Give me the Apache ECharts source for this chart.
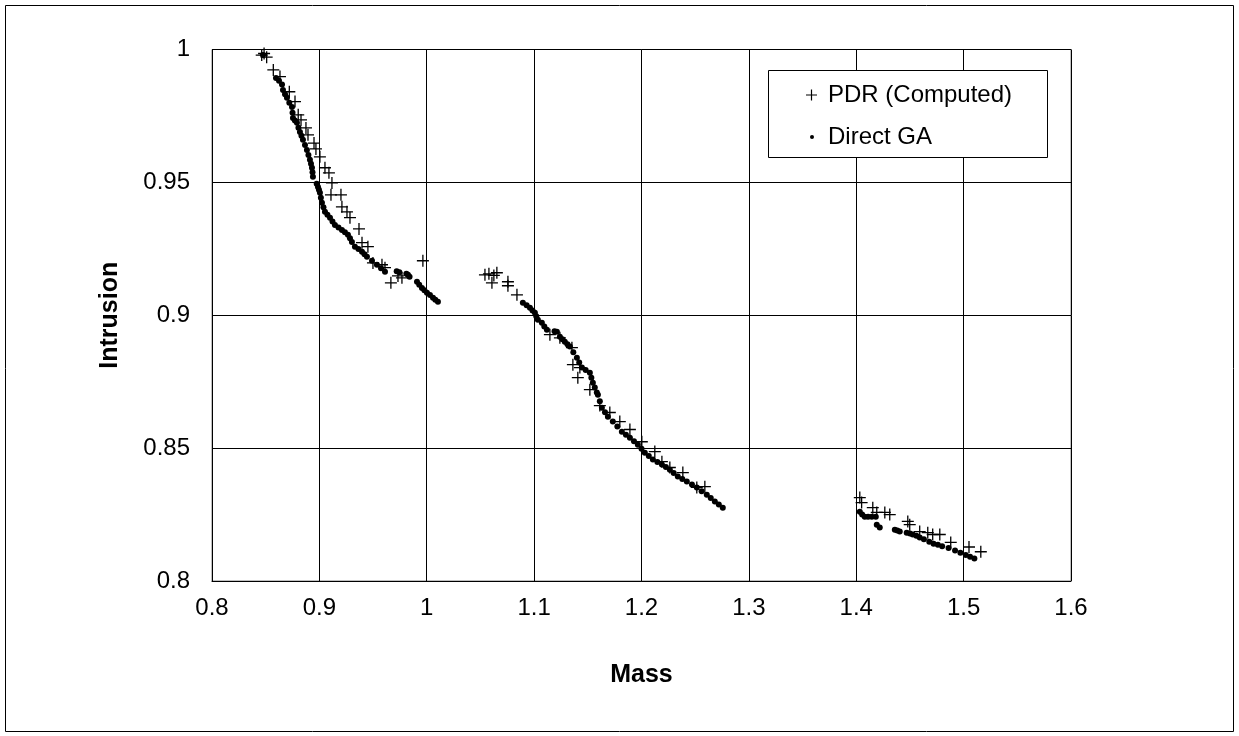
<!DOCTYPE html>
<html><head><meta charset="utf-8">
<script src="https://cdn.jsdelivr.net/npm/echarts@6/dist/echarts.min.js"></script>
<style>html,body{margin:0;padding:0;background:#fff}#c{width:1239px;height:736px}</style>
</head><body><div id="c"></div>
<script>
const xAxisName = 'Mass';
const yAxisName = 'Intrusion';
const seriesNames = ['PDR (Computed)', 'Direct GA'];

// PDR (Computed) points [mass, intrusion]
const pdrCluster1 = [[0.8463,0.9979],[0.8485,0.9985],[0.8509,0.9971],[0.8571,0.9923],[0.8633,0.9898],[0.8720,0.9841],[0.8773,0.9804],[0.8803,0.9754],[0.8829,0.9735],[0.8875,0.9705],[0.8894,0.9679],[0.8950,0.9648],[0.8968,0.9626],[0.9005,0.9596],[0.9052,0.9555],[0.9089,0.9536],[0.9117,0.9498],[0.9108,0.9453],[0.9201,0.9453],[0.9210,0.9408],[0.9257,0.9389],[0.9285,0.9367],[0.9369,0.9325],[0.9397,0.9273],[0.9452,0.9258],[0.9499,0.9197],[0.9583,0.9190],[0.9611,0.9179],[0.9666,0.9122],[0.9732,0.9148],[0.9769,0.9141],[0.9964,0.9205]];
const pdrCluster2 = [[1.0542,0.9152],[1.0579,0.9156],[1.0607,0.9122],[1.0625,0.9150],[1.0653,0.9160],[1.0756,0.9126],[1.0756,0.9111],[1.0840,0.9077],[1.1147,0.8927],[1.1240,0.8915],[1.1352,0.8878],[1.1361,0.8814],[1.1426,0.8803],[1.1407,0.8765],[1.1519,0.8720],[1.1612,0.8660],[1.1705,0.8634],[1.1798,0.8600],[1.1892,0.8570],[1.2003,0.8524],[1.2124,0.8487],[1.2190,0.8449],[1.2264,0.8427],[1.2385,0.8408],[1.2515,0.8352],[1.2590,0.8355]];
const pdrCluster3 = [[1.4033,0.8314],[1.4050,0.8295],[1.4154,0.8276],[1.4191,0.8258],[1.4266,0.8258],[1.4312,0.8250],[1.4480,0.8224],[1.4498,0.8212],[1.4591,0.8186],[1.4666,0.8182],[1.4712,0.8175],[1.4778,0.8175],[1.4880,0.8145],[1.5050,0.8128],[1.5160,0.8110]];

// Direct GA points [mass, intrusion]
const gaCluster1 = [[0.8475,0.9979],[0.8596,0.9893],[0.8624,0.9882],[0.8652,0.9868],[0.8661,0.9848],[0.8680,0.9832],[0.8698,0.9818],[0.8720,0.9800],[0.8745,0.9784],[0.8750,0.9762],[0.8754,0.9742],[0.8772,0.9733],[0.8791,0.9724],[0.8805,0.9706],[0.8819,0.9690],[0.8833,0.9675],[0.8847,0.9660],[0.8866,0.9641],[0.8884,0.9622],[0.8898,0.9603],[0.8912,0.9585],[0.8922,0.9570],[0.8931,0.9555],[0.8936,0.9538],[0.8940,0.9521],[0.8975,0.9495],[0.8987,0.9483],[0.8996,0.9472],[0.9005,0.9461],[0.9014,0.9442],[0.9024,0.9423],[0.9038,0.9406],[0.9052,0.9389],[0.9075,0.9378],[0.9099,0.9367],[0.9122,0.9353],[0.9145,0.9340],[0.9178,0.9330],[0.9210,0.9321],[0.9238,0.9312],[0.9266,0.9303],[0.9285,0.9290],[0.9303,0.9276],[0.9331,0.9258],[0.9364,0.9249],[0.9397,0.9239],[0.9420,0.9230],[0.9443,0.9220],[0.9490,0.9205],[0.9536,0.9190],[0.9574,0.9177],[0.9611,0.9164],[0.9720,0.9166],[0.9745,0.9162],[0.9810,0.9156],[0.9825,0.9152],[0.9840,0.9145],[0.9909,0.9126],[0.9930,0.9115],[0.9955,0.9103],[0.9978,0.9094],[1.0002,0.9085],[1.0030,0.9076],[1.0058,0.9066],[1.0080,0.9058],[1.0104,0.9051]];
const gaCluster2 = [[1.0895,0.9047],[1.0930,0.9038],[1.0961,0.9028],[1.0985,0.9018],[1.1007,0.9009],[1.1020,0.8996],[1.1035,0.8983],[1.1072,0.8972],[1.1095,0.8958],[1.1119,0.8945],[1.1190,0.8940],[1.1212,0.8938],[1.1240,0.8919],[1.1263,0.8910],[1.1286,0.8900],[1.1310,0.8891],[1.1333,0.8882],[1.1365,0.8861],[1.1398,0.8840],[1.1420,0.8822],[1.1445,0.8803],[1.1480,0.8794],[1.1519,0.8784],[1.1533,0.8765],[1.1547,0.8746],[1.1565,0.8728],[1.1584,0.8709],[1.1594,0.8701],[1.1612,0.8676],[1.1631,0.8652],[1.1660,0.8635],[1.1687,0.8618],[1.1733,0.8600],[1.1775,0.8581],[1.1817,0.8562],[1.1855,0.8550],[1.1892,0.8539],[1.1930,0.8526],[1.1966,0.8513],[1.2000,0.8498],[1.2031,0.8483],[1.2068,0.8470],[1.2106,0.8457],[1.2148,0.8448],[1.2190,0.8438],[1.2227,0.8429],[1.2264,0.8419],[1.2300,0.8406],[1.2338,0.8393],[1.2380,0.8384],[1.2422,0.8374],[1.2470,0.8363],[1.2515,0.8352],[1.2560,0.8338],[1.2608,0.8325],[1.2645,0.8312],[1.2683,0.8299],[1.2720,0.8288],[1.2757,0.8276]];
const gaCluster3 = [[1.4033,0.8261],[1.4055,0.8250],[1.4079,0.8242],[1.4110,0.8242],[1.4145,0.8242],[1.4182,0.8242],[1.4191,0.8212],[1.4219,0.8201],[1.4359,0.8193],[1.4382,0.8190],[1.4405,0.8186],[1.4470,0.8182],[1.4500,0.8179],[1.4526,0.8175],[1.4560,0.8170],[1.4591,0.8164],[1.4630,0.8157],[1.4680,0.8148],[1.4720,0.8140],[1.4760,0.8136],[1.4800,0.8131],[1.4860,0.8124],[1.4920,0.8115],[1.4970,0.8106],[1.5020,0.8098],[1.5060,0.8091],[1.5100,0.8085]];

const xMin = 0.8, xMax = 1.6, xStep = 0.1;
const yMin = 0.8, yMax = 1.0, yStep = 0.05;

const pdrData = pdrCluster1.concat(pdrCluster2, pdrCluster3);
const gaData = gaCluster1.concat(gaCluster2, gaCluster3);

const plusPath = 'path://M5.35,0H6.65V5.35H12V6.65H6.65V12H5.35V6.65H0V5.35H5.35Z';
const font = 'Liberation Sans, Arial, sans-serif';

const chart = echarts.init(document.getElementById('c'), null, {renderer: 'canvas'});
chart.setOption({
  animation: false,
  backgroundColor: '#fff',
  textStyle: {fontFamily: font},
  grid: {left: 212, top: 49.5, right: 168, bottom: 155, show: true, borderColor: '#808080', borderWidth: 1, containLabel: false},
  xAxis: {
    type: 'value', min: xMin, max: xMax, interval: xStep,
    name: xAxisName, nameLocation: 'middle', nameGap: 82,
    nameTextStyle: {fontFamily: font, fontSize: 25, fontWeight: 'bold', color: '#000'},
    axisLine: {show: true, onZero: false, lineStyle: {color: '#000', width: 1}},
    axisTick: {show: false},
    axisLabel: {color: '#000', fontSize: 24, fontFamily: font, margin: 15},
    splitLine: {show: true, lineStyle: {color: '#000', width: 1}}
  },
  yAxis: {
    type: 'value', min: yMin, max: yMax, interval: yStep,
    name: yAxisName, nameLocation: 'middle', nameGap: 89, nameRotate: 90,
    nameTextStyle: {fontFamily: font, fontSize: 25, fontWeight: 'bold', color: '#000'},
    axisLine: {show: true, onZero: false, lineStyle: {color: '#000', width: 1}},
    axisTick: {show: false},
    axisLabel: {color: '#000', fontSize: 24, fontFamily: font, margin: 22},
    splitLine: {show: true, lineStyle: {color: '#000', width: 1}}
  },
  legend: [
    {data: [{name: seriesNames[0], icon: plusPath}], left: 806, top: 83, padding: 0, orient: 'vertical',
     itemWidth: 11, itemHeight: 11, z: 20, selectedMode: false,
     textStyle: {fontSize: 24, fontFamily: font, color: '#000', padding: [0, 0, 0, 6]}},
    {data: [{name: seriesNames[1], icon: 'circle'}], left: 810, top: 125, padding: 0, orient: 'vertical',
     itemWidth: 4, itemHeight: 4, z: 20, selectedMode: false,
     textStyle: {fontSize: 24, fontFamily: font, color: '#000', padding: [0, 0, 0, 9]}}
  ],
  graphic: [
    {type: 'rect', z: -10, silent: true, shape: {x: 5.5, y: 5.5, width: 1228, height: 726}, style: {fill: 'none', stroke: '#000', lineWidth: 1}},
    {type: 'rect', z: 10, silent: true, shape: {x: 768.5, y: 70.5, width: 279, height: 87}, style: {fill: '#fff', stroke: '#000', lineWidth: 1}}
  ],
  series: [
    {name: seriesNames[0], type: 'scatter', data: pdrData, symbol: plusPath, symbolSize: 12,
     itemStyle: {color: '#000', opacity: 1}, z: 3},
    {name: seriesNames[1], type: 'scatter', data: gaData, symbol: 'circle', symbolSize: 6,
     itemStyle: {color: '#000', opacity: 1}, z: 4}
  ]
});
</script></body></html>
